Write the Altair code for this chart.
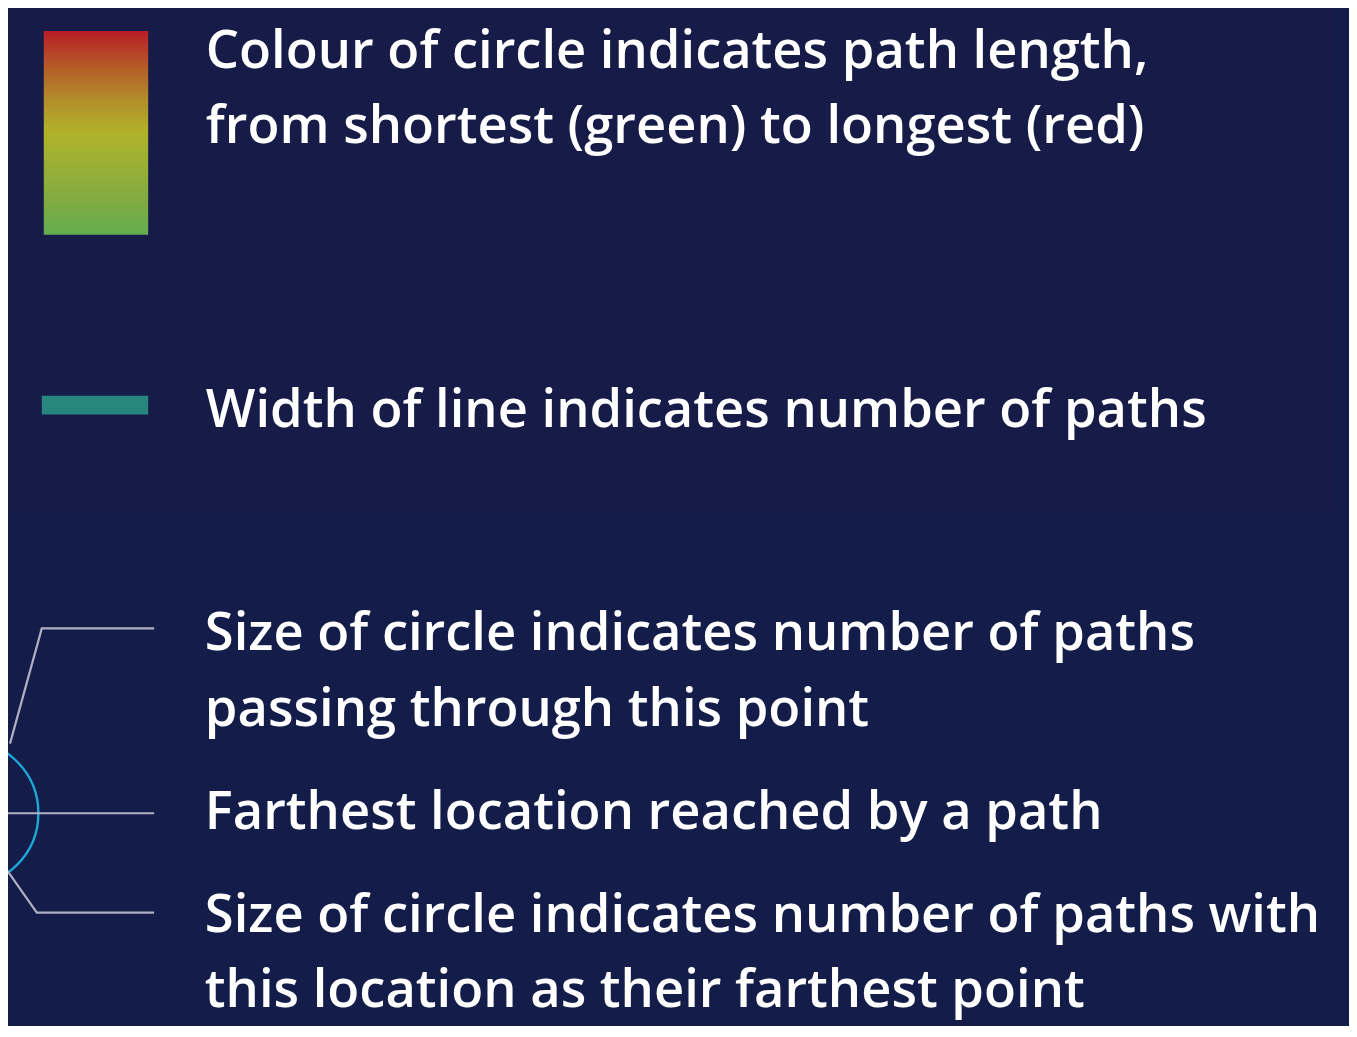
import math
import altair as alt
import pandas as pd

# ---- canvas (reference pixel coordinates) ----
W, H = 1349, 1018
OX, OY = 8, 8

# ---- legend texts ----
legend_texts = [
    "Colour of circle indicates path length,",
    "from shortest (green) to longest (red)",
    "Width of line indicates number of paths",
    "Size of circle indicates number of paths",
    "passing through this point",
    "Farthest location reached by a path",
    "Size of circle indicates number of paths with",
    "this location as their farthest point",
]
text_x = [207, 207, 207, 206, 206, 206, 206, 206]
text_y = [65, 141, 426, 651, 727, 831, 934, 1010]

# ---- colour gradient swatch ----
grad_box = {"x": 44, "x2": 149, "y": 28, "y2": 233}
grad_colors = ["#63ae4f", "#7dab42", "#b1b32a", "#b38e2a", "#b55d28", "#b91c26"]
grad_offsets = [0.0, 0.15, 0.5, 0.66, 0.82, 1.0]

# ---- line-width swatch ----
bar_box = {"x": 42, "x2": 149, "y": 395, "y2": 414}

# ---- panel backgrounds ----
panel_box = {"x": 0, "x2": 1340, "y": 0, "y2": 510}

# ---- circle + leader lines ----
circle_cx, circle_cy, circle_r = -35, 815, 83
leader_seg = [1, 1, 1, 2, 2, 3, 3, 3]
leader_ord = [0, 1, 2, 0, 1, 0, 1, 2]
leader_x = [10, 42, 155, -10, 155, -8, 37, 155]
leader_y = [745, 629, 629, 815, 815, 851, 915, 915]

BG = "#141d4a"
PANEL = "#161c47"
TEXT = "#ffffff"

xs = alt.Scale(domain=[OX, OX + W])
ys = alt.Scale(domain=[OY, OY + H], reverse=True)


def X(f="x"):
    return alt.X(f"{f}:Q", scale=xs, axis=None)


def Y(f="y"):
    return alt.Y(f"{f}:Q", scale=ys, axis=None)


panel = alt.Chart(pd.DataFrame([panel_box])).mark_rect(fill=PANEL).encode(
    x=X(), x2="x2:Q", y=Y(), y2="y2:Q"
)

grad = alt.Chart(pd.DataFrame([grad_box])).mark_rect(
    fill=alt.Gradient(
        gradient="linear",
        stops=[alt.GradientStop(color=c, offset=o) for c, o in zip(grad_colors, grad_offsets)],
        x1=0, x2=0, y1=1, y2=0,
    )
).encode(x=X(), x2="x2:Q", y=Y(), y2="y2:Q")

bar = alt.Chart(pd.DataFrame([bar_box])).mark_rect(fill="#27877f").encode(
    x=X(), x2="x2:Q", y=Y(), y2="y2:Q"
)

circle = alt.Chart(pd.DataFrame({"x": [circle_cx], "y": [circle_cy]})).mark_point(
    shape="circle", filled=False, size=math.pi * circle_r ** 2,
    stroke="#1ea8d8", strokeWidth=2.4, opacity=1,
).encode(x=X(), y=Y())

leaders = alt.Chart(pd.DataFrame({
    "x": leader_x, "y": leader_y, "seg": leader_seg, "o": leader_ord,
})).mark_line(stroke="#aeb1c4", strokeWidth=2.2).encode(
    x=X(), y=Y(), detail="seg:N", order="o:Q"
)

texts = alt.Chart(pd.DataFrame({
    "x": text_x, "y": text_y, "t": legend_texts,
})).mark_text(
    align="left", baseline="alphabetic", font="Open Sans", fontSize=52.8,
    fontWeight=600, color=TEXT,
).encode(x=X(), y=Y(), text="t:N")

chart = alt.layer(panel, grad, bar, circle, leaders, texts).properties(
    width=W, height=H, padding=0, autosize=alt.AutoSizeParams(type="none"),
    background=BG,
).configure_view(stroke=None)

chart.save("out.html", embed_options={"renderer": "svg", "actions": False})
